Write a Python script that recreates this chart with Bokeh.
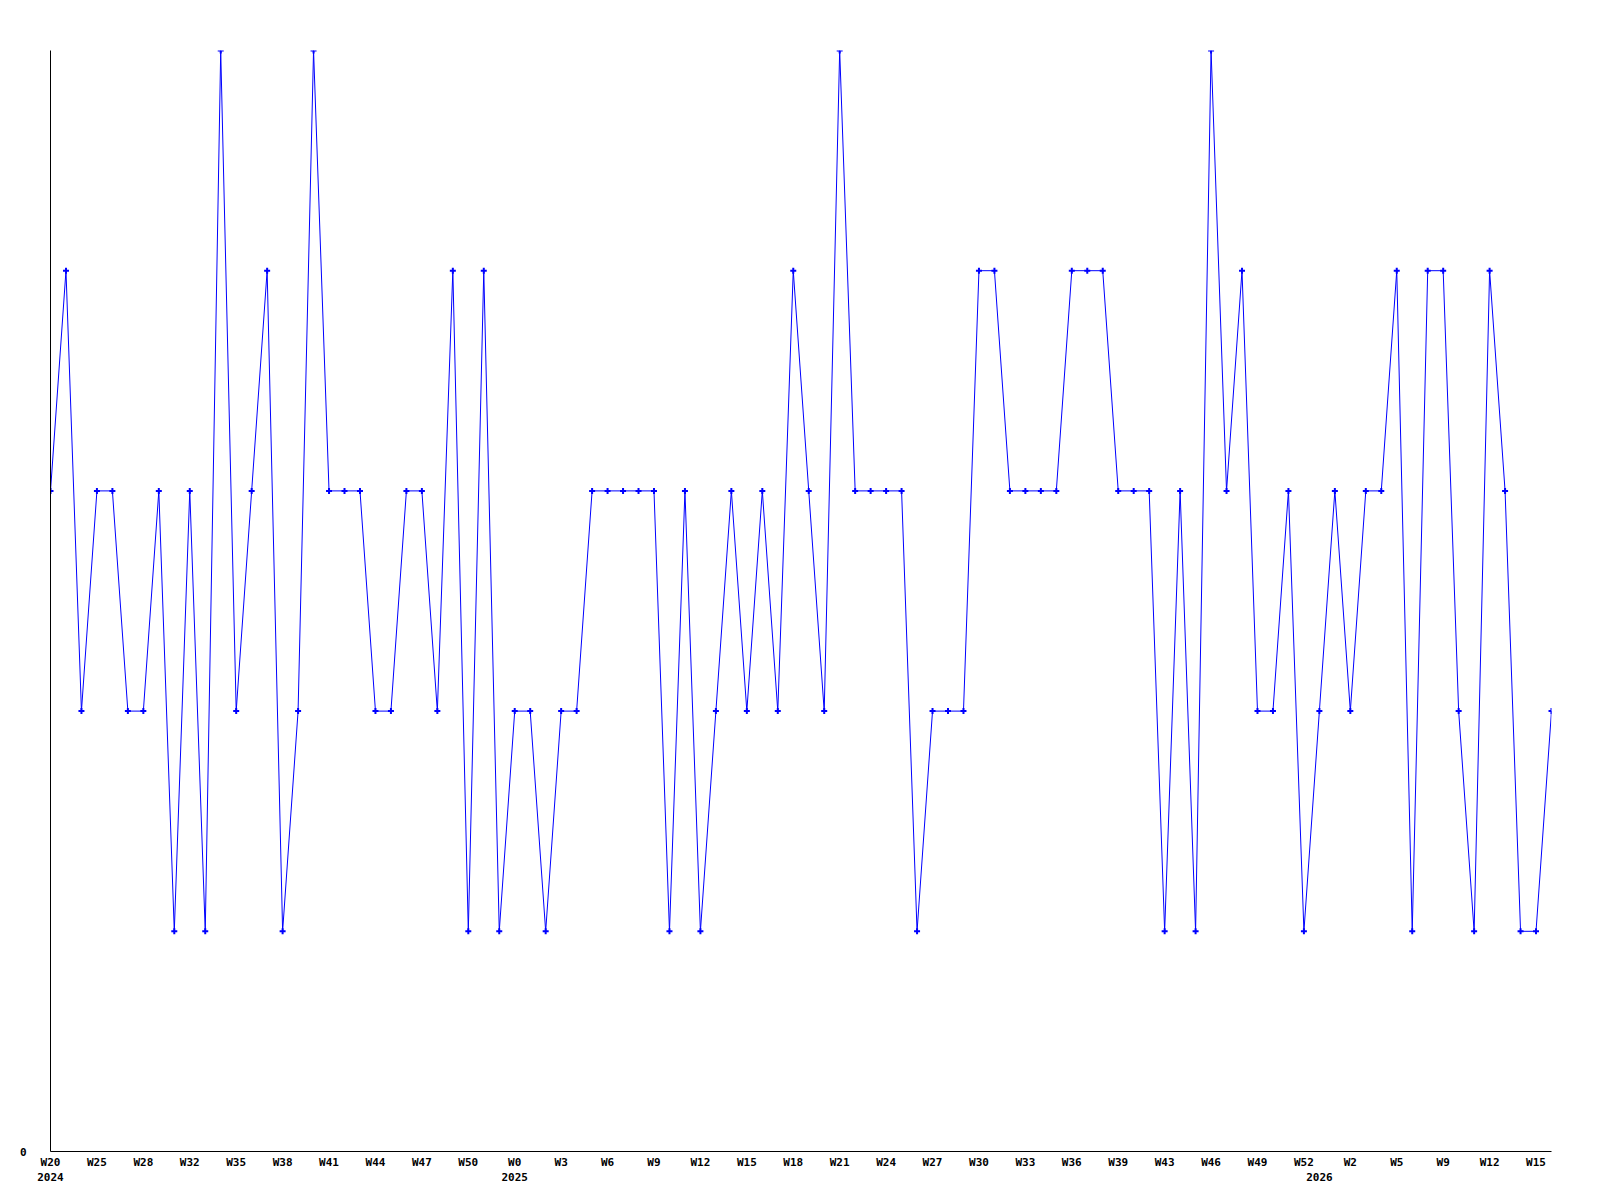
from bokeh.plotting import figure
from bokeh.models import Range1d, FixedTicker, LinearAxis
from bokeh.embed import file_html
from bokeh.resources import INLINE

# ---- data ----
values = [3, 4, 2, 3, 3, 2, 2, 3, 1, 3,
          1, 5, 2, 3, 4, 1, 2, 5, 3, 3,
          3, 2, 2, 3, 3, 2, 4, 1, 4, 1,
          2, 2, 1, 2, 2, 3, 3, 3, 3, 3,
          1, 3, 1, 2, 3, 2, 3, 2, 4, 3,
          2, 5, 3, 3, 3, 3, 1, 2, 2, 2,
          4, 4, 3, 3, 3, 3, 4, 4, 4, 3,
          3, 3, 1, 3, 1, 5, 3, 4, 2, 2,
          3, 1, 2, 3, 2, 3, 3, 4, 1, 4,
          4, 2, 1, 4, 3, 1, 1, 2]
index = list(range(len(values)))

tick_idx = list(range(0, 97, 3))
tick_labels = ["W20", "W25", "W28", "W32", "W35", "W38", "W41", "W44", "W47", "W50",
               "W0", "W3", "W6", "W9", "W12", "W15", "W18", "W21", "W24", "W27",
               "W30", "W33", "W36", "W39", "W43", "W46", "W49", "W52",
               "W2", "W5", "W9", "W12", "W15"]
year_idx = [0, 30, 82]
year_labels = ["2024", "2025", "2026"]

FONT = "DejaVu Sans Mono"

p = figure(width=1592, height=1192, output_backend="svg", toolbar_location=None,
           x_range=Range1d(0, len(values) - 1), y_range=Range1d(0, 5),
           frame_width=1501, frame_height=1101,
           min_border_left=50, min_border_right=41, min_border_top=50, min_border_bottom=41)
p.outline_line_color = None
p.grid.visible = False
p.background_fill_color = "white"
p.border_fill_color = "white"

p.line(index, values, line_color="#0000ff", line_width=1)
p.scatter(index, values, marker="cross", size=6, line_color="#0000ff", line_width=2)

def style(ax, standoff):
    ax.major_tick_in = 0
    ax.major_tick_out = 0
    ax.minor_tick_line_color = None
    ax.major_label_standoff = standoff
    ax.major_label_text_font = FONT
    ax.major_label_text_font_style = "bold"
    ax.major_label_text_font_size = "11px"
    ax.major_label_text_color = "black"

# y axis: only "0"
p.yaxis.ticker = FixedTicker(ticks=[0])
style(p.yaxis[0], 24)
p.yaxis.axis_line_color = "black"

# x axis: week labels
xa = p.xaxis[0]
xa.ticker = FixedTicker(ticks=tick_idx)
xa.major_label_overrides = {t: l for t, l in zip(tick_idx, tick_labels)}
style(xa, 4)
xa.axis_line_color = "black"

# second axis: years
ya = LinearAxis(ticker=FixedTicker(ticks=year_idx),
                major_label_overrides={t: l for t, l in zip(year_idx, year_labels)})
style(ya, 1)
ya.axis_line_color = None
p.add_layout(ya, "below")

open("out.html", "w").write(file_html(p, INLINE))
